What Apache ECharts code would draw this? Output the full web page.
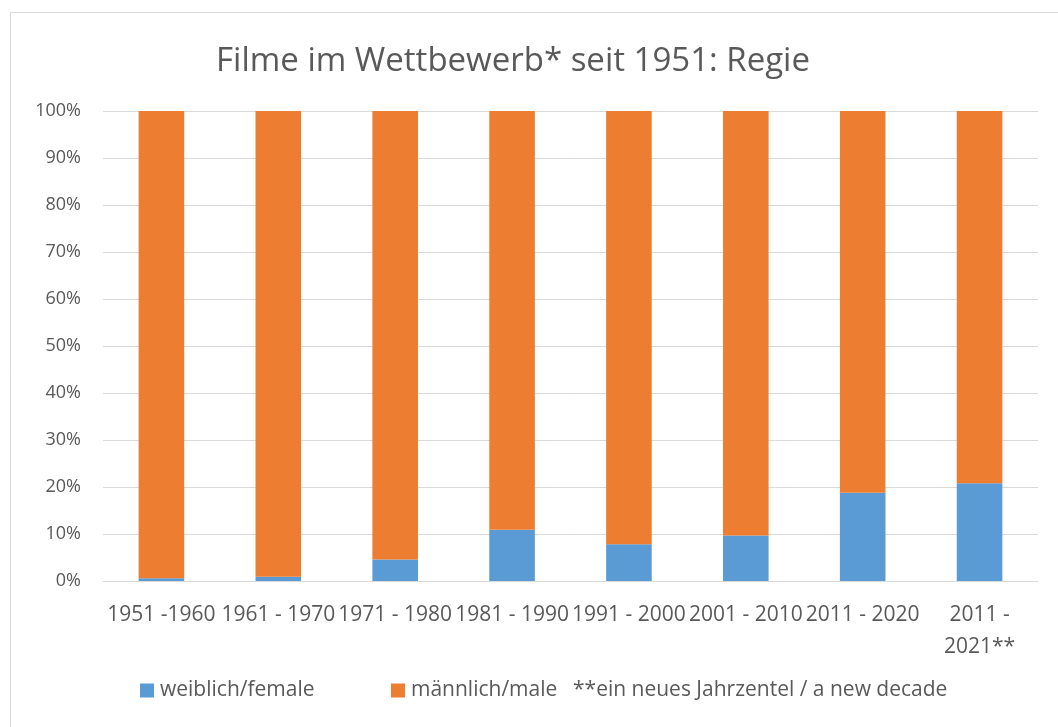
<!DOCTYPE html>
<html>
<head>
<meta charset="utf-8">
<script src="https://cdn.jsdelivr.net/npm/echarts@6/dist/echarts.min.js"></script>
<style>
  html, body { margin: 0; padding: 0; background: #fff; }
  #chart { width: 1058px; height: 727px; }
</style>
</head>
<body>
<div id="chart"></div>
<script>
// decades on the x axis
const decades = ['1951 -1960', '1961 - 1970', '1971 - 1980', '1981 - 1990',
  '1991 - 2000', '2001 - 2010', '2011 - 2020', '2011 -\n2021**']
// share of films by directors, in percent
const female = [0.6, 0.9, 4.6, 10.9, 7.8, 9.7, 18.8, 20.8]
const male = [99.4, 99.1, 95.4, 89.1, 92.2, 90.3, 81.2, 79.2]

const font = '"Open Sans", "Liberation Sans", sans-serif'
const grey = '#595959'

const chart = echarts.init(document.getElementById('chart'))
const option = {
  backgroundColor: '#fff',
  textStyle: { fontFamily: font },
  animation: false,
  title: {
    text: 'Filme im Wettbewerb* seit 1951: Regie',
    left: 508,
    textAlign: 'center',
    top: 40,
    textStyle: { fontFamily: font, fontSize: 33, fontWeight: 'normal', color: grey }
  },
  legend: [
    {
      data: ['weiblich/female'],
      left: 140, top: 680, padding: 0,
      itemWidth: 14, itemHeight: 14,
      icon: 'rect',
      textStyle: { fontFamily: font, fontSize: 21, color: grey, padding: [0, 0, 0, 1] }
    },
    {
      data: ['männlich/male'],
      left: 391, top: 680, padding: 0,
      itemWidth: 14, itemHeight: 14,
      icon: 'rect',
      textStyle: { fontFamily: font, fontSize: 21, color: grey, padding: [0, 0, 0, 1] }
    }
  ],
  graphic: [
    {
      type: 'rect',
      shape: { x: 10.5, y: 12.5, width: 1100, height: 800 },
      style: { fill: 'none', stroke: '#d9d9d9', lineWidth: 1 },
      silent: true
    },
    {
      type: 'text',
      left: 573, top: 680,
      style: { text: '**ein neues Jahrzentel / a new decade', font: '21px ' + font, fill: grey }
    }
  ],
  grid: { left: 103, right: 20, top: 111, bottom: 146 },
  xAxis: {
    type: 'category',
    data: decades,
    axisLine: { lineStyle: { color: '#d9d9d9' } },
    axisTick: { show: false },
    axisLabel: { color: grey, fontSize: 21, margin: 18, interval: 0, lineHeight: 32 }
  },
  yAxis: {
    type: 'value',
    min: 0, max: 100, interval: 10,
    axisLabel: { formatter: '{value}%', color: grey, fontSize: 18, margin: 22 },
    splitLine: { lineStyle: { color: '#d9d9d9' } }
  },
  series: [
    {
      name: 'weiblich/female',
      type: 'bar',
      stack: 'total',
      barWidth: '39%',
      itemStyle: { color: '#5b9bd5' },
      data: female
    },
    {
      name: 'männlich/male',
      type: 'bar',
      stack: 'total',
      barWidth: '39%',
      itemStyle: { color: '#ed7d31' },
      data: male
    }
  ]
}
chart.setOption(option)
</script>
</body>
</html>
